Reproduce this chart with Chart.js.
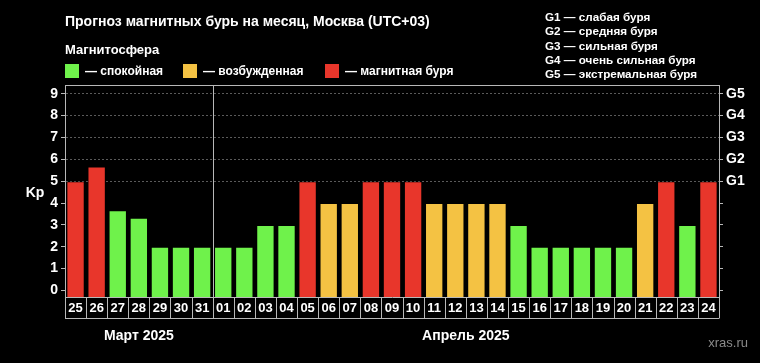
<!DOCTYPE html>
<html>
<head>
<meta charset="utf-8">
<script src="https://cdn.jsdelivr.net/npm/chart.js@4"></script>
<style>
  html, body { margin: 0; padding: 0; background: #000; }
  #wrap { width: 760px; height: 363px; }
</style>
</head>
<body>
<div id="wrap"><canvas id="kpChart" width="760" height="363"></canvas></div>
<script>
// Data
const days = ['25', '26', '27', '28', '29', '30', '31',
  '01', '02', '03', '04', '05', '06', '07', '08', '09', '10', '11', '12',
  '13', '14', '15', '16', '17', '18', '19', '20', '21', '22', '23', '24'];
const kpValues = [5, 5.67, 3.67, 3.33, 2, 2, 2,
  2, 2, 3, 3, 5, 4, 4, 5, 5, 5, 4, 4,
  4, 4, 3, 2, 2, 2, 2, 2, 4, 5, 3, 5];
const kpTicks = [0, 1, 2, 3, 4, 5, 6, 7, 8, 9];
const gLabels = ['', '', '', '', '', 'G1', 'G2', 'G3', 'G4', 'G5'];
const monthNames = ['Март 2025', 'Апрель 2025'];
const monthFirstIdx = [0, 7];
const monthLastIdx = [6, 30];
const legendNames = ['— спокойная', '— возбужденная', '— магнитная буря'];
const stormNames = ['G1 — слабая буря', 'G2 — средняя буря', 'G3 — сильная буря',
  'G4 — очень сильная буря', 'G5 — экстремальная буря'];

const GREEN = '#6ff24b';
const ORANGE = '#f4c243';
const RED = '#e8362b';
const FRAME = '#b8b8b8';
const FONT = '"Liberation Sans", Arial, sans-serif';
const Y_MIN = -0.3, Y_MAX = 9.4;

function kpColor(v) {
  if (v >= 5) return RED;
  if (v >= 4) return ORANGE;
  return GREEN;
}

function setTicks(scale) {
  scale.ticks = kpTicks.map(v => ({ value: v }));
}

const decor = {
  id: 'decor',
  beforeDraw(chart) {
    const ctx = chart.ctx;
    ctx.save();
    ctx.fillStyle = '#000';
    ctx.fillRect(0, 0, chart.width, chart.height);
    ctx.restore();
  },
  beforeDatasetsDraw(chart) {
    const { ctx, chartArea: a, scales: { x } } = chart;
    // month separator
    const sx = Math.round((x.getPixelForValue(monthLastIdx[0]) + x.getPixelForValue(monthFirstIdx[1])) / 2) + 0.5;
    ctx.save();
    ctx.strokeStyle = FRAME;
    ctx.lineWidth = 1;
    ctx.beginPath();
    ctx.moveTo(sx, a.top);
    ctx.lineTo(sx, a.bottom);
    ctx.stroke();
    ctx.restore();
  },
  afterDraw(chart) {
    const { ctx, chartArea: a, scales: { x } } = chart;
    const half = (x.getPixelForValue(1) - x.getPixelForValue(0)) / 2;
    ctx.save();
    ctx.strokeStyle = FRAME;
    ctx.lineWidth = 1;
    // top frame
    ctx.beginPath();
    ctx.moveTo(a.left, a.top + 0.5);
    ctx.lineTo(a.right, a.top + 0.5);
    ctx.stroke();
    // day cells
    const cellBottom = a.bottom + 21.5;
    ctx.beginPath();
    for (let i = 0; i <= days.length; i++) {
      const ex = Math.round(x.getPixelForValue(i) - half) + 0.5;
      ctx.moveTo(ex, a.bottom);
      ctx.lineTo(ex, cellBottom);
    }
    ctx.moveTo(a.left, cellBottom);
    ctx.lineTo(a.right, cellBottom);
    ctx.stroke();

    ctx.fillStyle = '#fff';
    ctx.textBaseline = 'middle';
    // Kp
    ctx.font = 'bold 14px ' + FONT;
    ctx.textAlign = 'center';
    ctx.fillText('Kp', 35, (a.top + a.bottom) / 2 + 2);
    // months
    ctx.font = 'bold 14px ' + FONT;
    monthNames.forEach((m, i) => {
      const l = x.getPixelForValue(monthFirstIdx[i]) - half;
      const r = x.getPixelForValue(monthLastIdx[i]) + half;
      ctx.fillText(m, (l + r) / 2, 336);
    });

    // header
    ctx.textAlign = 'left';
    ctx.font = 'bold 14px ' + FONT;
    ctx.fillText('Прогноз магнитных бурь на месяц, Москва (UTC+03)', 65, 22);
    ctx.font = 'bold 13px ' + FONT;
    ctx.fillText('Магнитосфера', 65, 50);

    // legend
    const sw = [GREEN, ORANGE, RED];
    const lx = [65, 183, 325];
    ctx.font = 'bold 12px ' + FONT;
    legendNames.forEach((t, i) => {
      ctx.fillStyle = sw[i];
      ctx.fillRect(lx[i], 64, 14, 14);
      ctx.fillStyle = '#fff';
      ctx.fillText(t, lx[i] + 20, 71.5);
    });

    // storm scale
    ctx.font = 'bold 11.7px ' + FONT;
    stormNames.forEach((t, i) => {
      ctx.fillText(t, 545, 18 + i * 14.2);
    });

    // watermark
    ctx.font = '13px ' + FONT;
    ctx.fillStyle = '#8a8a8a';
    ctx.textAlign = 'right';
    ctx.fillText('xras.ru', 748, 343);
    ctx.restore();
  }
};

new Chart(document.getElementById('kpChart'), {
  type: 'bar',
  data: {
    labels: days,
    datasets: [{
      data: kpValues,
      backgroundColor: kpValues.map(kpColor),
      borderColor: 'rgba(0,0,0,0.35)',
      borderWidth: 1,
      base: Y_MIN,
      barPercentage: 0.87,
      categoryPercentage: 1,
      yAxisID: 'y'
    }]
  },
  options: {
    responsive: false,
    animation: false,
    layout: { padding: { top: 85, left: 0, right: 0, bottom: 0 } },
    plugins: {
      legend: { display: false },
      tooltip: { enabled: false }
    },
    scales: {
      x: {
        grid: { display: false, drawTicks: false },
        border: { display: true, color: FRAME },
        ticks: {
          color: '#fff',
          font: { family: FONT, size: 13, weight: 'bold' },
          padding: 4,
          maxRotation: 0,
          autoSkip: false
        },
        afterFit(s) { s.height = 66; }
      },
      y: {
        position: 'left',
        min: Y_MIN,
        max: Y_MAX,
        afterBuildTicks: setTicks,
        afterFit(s) { s.width = 65; },
        ticks: {
          color: '#fff',
          font: { family: FONT, size: 14, weight: 'bold' },
          padding: 3
        },
        grid: {
          color: c => (c.tick && c.tick.value >= 5 ? '#5a5a5a' : 'rgba(0,0,0,0)'),
          tickColor: FRAME,
          tickLength: 4
        },
        border: { color: FRAME, dash: [2, 2] }
      },
      y2: {
        position: 'right',
        min: Y_MIN,
        max: Y_MAX,
        afterBuildTicks: setTicks,
        afterFit(s) { s.width = 41; },
        ticks: {
          color: '#fff',
          font: { family: FONT, size: 14, weight: 'bold' },
          padding: 3,
          callback: (v, i) => gLabels[i]
        },
        grid: {
          drawOnChartArea: false,
          tickColor: FRAME,
          tickLength: 4
        },
        border: { color: FRAME }
      }
    }
  },
  plugins: [decor]
});
</script>
</body>
</html>
